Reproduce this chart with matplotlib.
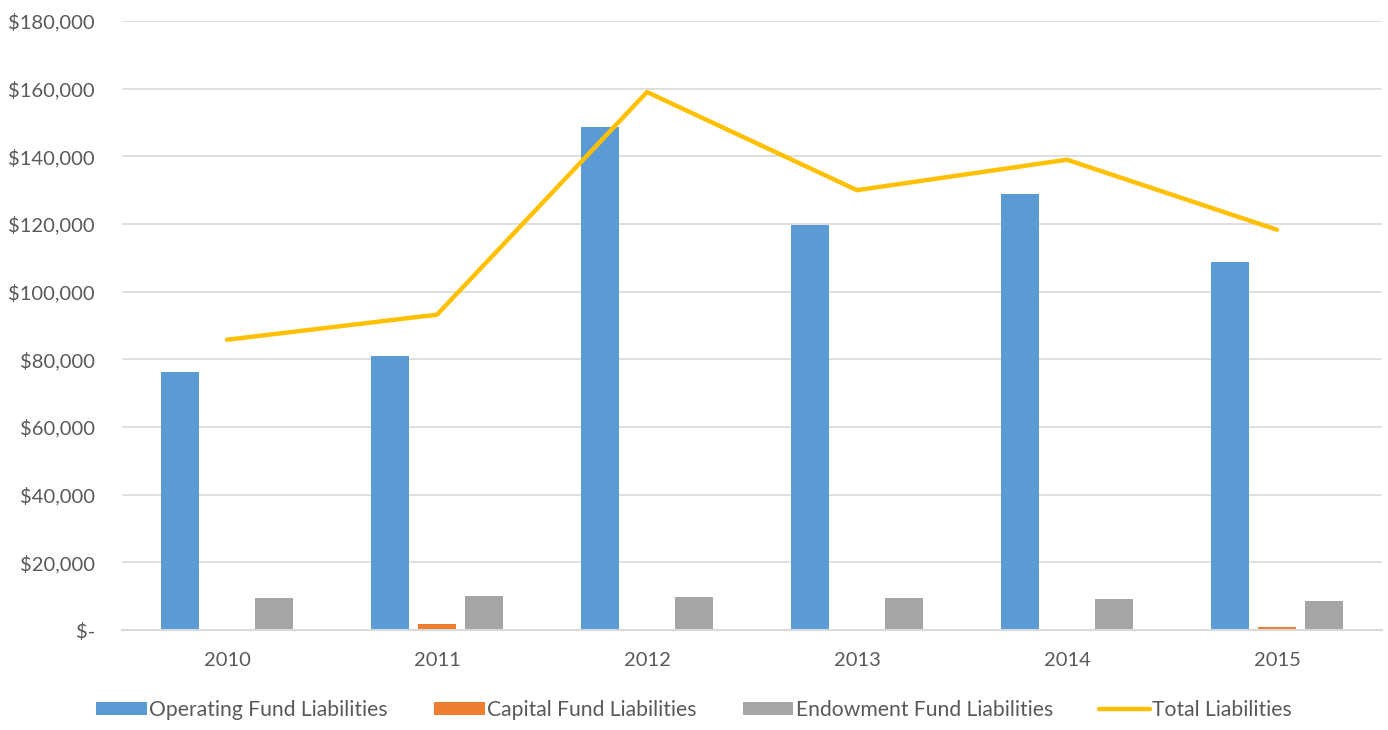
import matplotlib
matplotlib.use("Agg")
import matplotlib.pyplot as plt
import numpy as np
from matplotlib.ticker import FuncFormatter, MultipleLocator

years = ["2010", "2011", "2012", "2013", "2014", "2015"]
operating = [76300, 81000, 148800, 119800, 128900, 108800]
capital = [0, 1900, 0, 200, 300, 900]
endowment = [9500, 10000, 9800, 9500, 9200, 8600]
total = [85800, 93200, 159000, 130000, 139000, 118300]

plt.rcParams['font.family'] = ['Lato', 'DejaVu Sans']
text_color = '#595959'
grid_color = '#D9D9D9'
fs = 14.5

fig = plt.figure(figsize=(13.88, 7.30), dpi=100)
ax = fig.add_axes([122/1388, 1 - 630/730, (1382-122)/1388, (630-21)/730])

x = np.arange(len(years))
w = 0.177
step = 0.224
ax.bar(x - step, operating, w, color='#5B9BD5', label='Operating Fund Liabilities', zorder=3)
ax.bar(x, capital, w, color='#ED7D31', label='Capital Fund Liabilities', zorder=3)
ax.bar(x + step, endowment, w, color='#A5A5A5', label='Endowment Fund Liabilities', zorder=3)
ax.plot(x, total, color='#FFC000', lw=3.2, label='Total Liabilities', zorder=4, solid_capstyle='round')

ax.set_xlim(-0.5, len(years) - 0.5)
ax.set_ylim(0, 180000)
ax.yaxis.set_major_locator(MultipleLocator(20000))

def fmt(v, pos):
    if v == 0:
        return '$-'
    return '${:,.0f}'.format(v)

ax.yaxis.set_major_formatter(FuncFormatter(fmt))
ax.set_xticks(x)
ax.set_xticklabels(years)
ax.tick_params(axis='both', length=0, labelsize=fs, labelcolor=text_color)
ax.tick_params(axis='y', pad=19.5)
ax.tick_params(axis='x', pad=16)
ax.grid(axis='y', color=grid_color, lw=1.2, zorder=0)
for s in ['top', 'right', 'left']:
    ax.spines[s].set_visible(False)
ax.spines['bottom'].set_color(grid_color)
ax.spines['bottom'].set_linewidth(1.5)
ax.spines['bottom'].set_zorder(5)

handles, labels = ax.get_legend_handles_labels()
order = [1, 2, 3, 0]
leg = fig.legend([handles[i] for i in order], [labels[i] for i in order],
                 loc='center', bbox_to_anchor=(0.5, 1 - 710/730), ncol=4, frameon=False,
                 fontsize=15.2, handlelength=2.4, handleheight=0.6, columnspacing=2.2,
                 handletextpad=0.1, labelcolor=text_color)

fig.savefig('out.png', dpi=100)
